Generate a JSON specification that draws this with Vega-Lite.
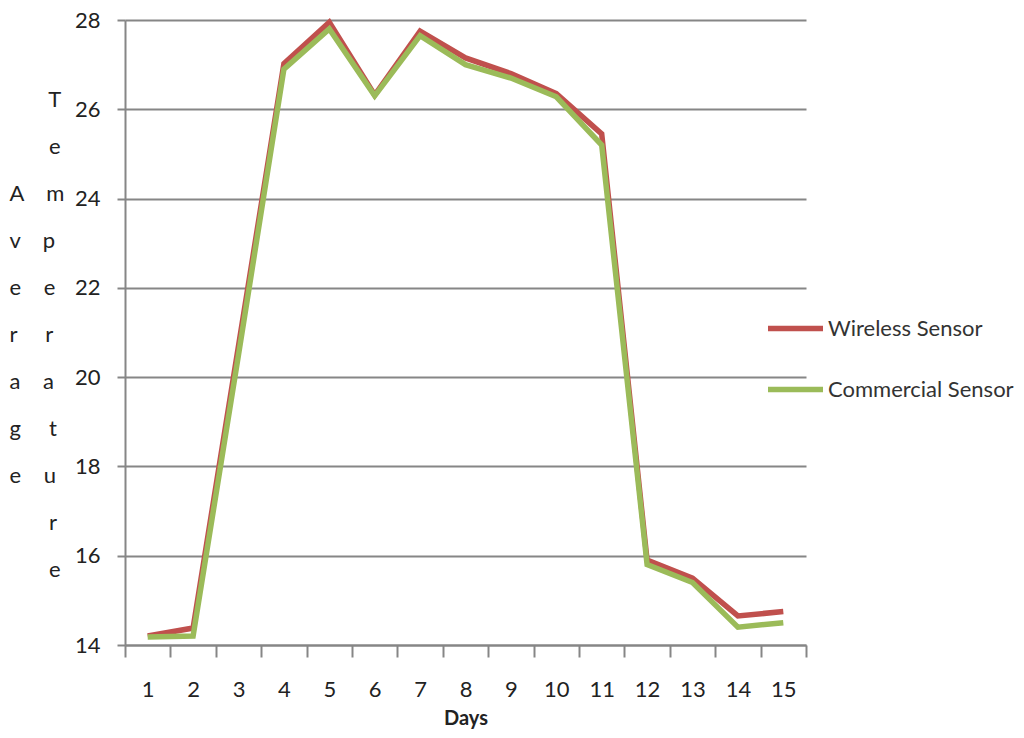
{
  "$schema": "https://vega.github.io/schema/vega-lite/v6.json",
  "width": 681,
  "height": 625,
  "autosize": "none",
  "padding": {"left": 125, "top": 20, "right": 218, "bottom": 93},
  "background": "white",
  "config": {"view": {"stroke": null}, "font": "Lato"},
  "data": {
    "values": [
      {"day": 1, "series": "Wireless Sensor", "temp": 14.2},
      {"day": 2, "series": "Wireless Sensor", "temp": 14.38},
      {"day": 3, "series": "Wireless Sensor", "temp": 20.7},
      {"day": 4, "series": "Wireless Sensor", "temp": 27.02},
      {"day": 5, "series": "Wireless Sensor", "temp": 27.95},
      {"day": 6, "series": "Wireless Sensor", "temp": 26.32},
      {"day": 7, "series": "Wireless Sensor", "temp": 27.75},
      {"day": 8, "series": "Wireless Sensor", "temp": 27.15},
      {"day": 9, "series": "Wireless Sensor", "temp": 26.8},
      {"day": 10, "series": "Wireless Sensor", "temp": 26.35},
      {"day": 11, "series": "Wireless Sensor", "temp": 25.45},
      {"day": 12, "series": "Wireless Sensor", "temp": 15.9},
      {"day": 13, "series": "Wireless Sensor", "temp": 15.5},
      {"day": 14, "series": "Wireless Sensor", "temp": 14.65},
      {"day": 15, "series": "Wireless Sensor", "temp": 14.75},
      {"day": 1, "series": "Commercial Sensor", "temp": 14.18},
      {"day": 2, "series": "Commercial Sensor", "temp": 14.2},
      {"day": 3, "series": "Commercial Sensor", "temp": 20.5},
      {"day": 4, "series": "Commercial Sensor", "temp": 26.9},
      {"day": 5, "series": "Commercial Sensor", "temp": 27.8},
      {"day": 6, "series": "Commercial Sensor", "temp": 26.3},
      {"day": 7, "series": "Commercial Sensor", "temp": 27.65},
      {"day": 8, "series": "Commercial Sensor", "temp": 27.0},
      {"day": 9, "series": "Commercial Sensor", "temp": 26.7},
      {"day": 10, "series": "Commercial Sensor", "temp": 26.28},
      {"day": 11, "series": "Commercial Sensor", "temp": 25.2},
      {"day": 12, "series": "Commercial Sensor", "temp": 15.8},
      {"day": 13, "series": "Commercial Sensor", "temp": 15.4},
      {"day": 14, "series": "Commercial Sensor", "temp": 14.4},
      {"day": 15, "series": "Commercial Sensor", "temp": 14.5}
    ]
  },
  "mark": {"type": "line", "strokeWidth": 5.5},
  "encoding": {
    "x": {
      "field": "day",
      "type": "ordinal",
      "scale": {"paddingInner": 0, "paddingOuter": 0},
      "axis": {
        "title": "Days",
        "tickBand": "extent",
        "grid": false,
        "labelAngle": 0,
        "tickSize": 12,
        "tickColor": "#868686",
        "tickWidth": 2,
        "domainColor": "#868686",
        "domainWidth": 2,
        "labelFontSize": 22,
        "labelColor": "#222222",
        "labelPadding": 22,
        "titleFontSize": 20,
        "titleFontWeight": "bold",
        "titlePadding": 8,
        "titleColor": "#222222"
      }
    },
    "y": {
      "field": "temp",
      "type": "quantitative",
      "scale": {"domain": [14, 28], "nice": false, "zero": false},
      "axis": {
        "values": [14, 16, 18, 20, 22, 24, 26, 28],
        "grid": true,
        "gridColor": "#868686",
        "gridWidth": 2,
        "tickSize": 8,
        "tickColor": "#868686",
        "tickWidth": 2,
        "domainColor": "#868686",
        "domainWidth": 2,
        "labelFontSize": 22,
        "labelColor": "#222222",
        "labelPadding": 17,
        "title": [
          "\u200b\u00a0\u00a0\u00a0\u00a0\u00a0\u00a0\u00a0T",
          "\u200b\u00a0\u00a0\u00a0\u00a0\u00a0\u00a0\u00a0e",
          "A\u00a0\u00a0\u00a0\u00a0m",
          "v\u00a0\u00a0\u00a0\u00a0p",
          "e\u00a0\u00a0\u00a0\u00a0e",
          "r\u00a0\u00a0\u00a0\u00a0\u00a0r",
          "a\u00a0\u00a0\u00a0\u00a0a",
          "g\u00a0\u00a0\u00a0\u00a0\u00a0t",
          "e\u00a0\u00a0\u00a0\u00a0u",
          "\u200b\u00a0\u00a0\u00a0\u00a0\u00a0\u00a0\u00a0r",
          "\u200b\u00a0\u00a0\u00a0\u00a0\u00a0\u00a0\u00a0e"
        ],
        "titleAngle": 0,
        "titleAlign": "left",
        "titleBaseline": "top",
        "titleX": -116,
        "titleY": 69,
        "titleLineHeight": 47,
        "titleFontSize": 22,
        "titleFontWeight": "normal",
        "titleColor": "#222222"
      }
    },
    "color": {
      "field": "series",
      "type": "nominal",
      "sort": ["Wireless Sensor", "Commercial Sensor"],
      "scale": {"domain": ["Wireless Sensor", "Commercial Sensor"], "range": ["#C0504D", "#9BBB59"]},
      "legend": {
        "title": null,
        "orient": "none",
        "legendX": 640,
        "legendY": 278,
        "symbolType": "stroke",
        "symbolSize": 3025,
        "symbolStrokeWidth": 5.5,
        "labelFontSize": 22,
        "labelOffset": 2,
        "labelColor": "#333333",
        "labelLimit": 300,
        "rowPadding": 19
      }
    }
  }
}
